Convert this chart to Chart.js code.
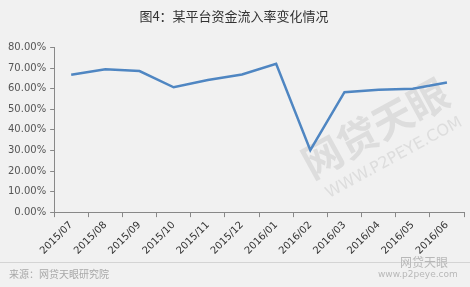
<!DOCTYPE html>
<html>
<head>
<meta charset="utf-8">
<script src="https://cdn.jsdelivr.net/npm/chart.js@4"></script>
<style>
  html, body { margin: 0; padding: 0; background: #f1f1f1; }
  #wrap { width: 470px; height: 287px; position: relative; }
</style>
</head>
<body>
<div id="wrap"><canvas id="rateChart" width="470" height="287"></canvas></div>
<script>
// Data
const months = ['2015/07', '2015/08', '2015/09', '2015/10', '2015/11', '2015/12',
                '2016/01', '2016/02', '2016/03', '2016/04', '2016/05', '2016/06'];
const inflowRate = [0.668, 0.695, 0.686, 0.607, 0.642, 0.669,
                    0.721, 0.301, 0.583, 0.595, 0.600, 0.630];
const titleText = '图4：某平台资金流入率变化情况';
const sourceText = '来源：网贷天眼研究院';

const baseFont = "'Noto Sans CJK SC', 'DejaVu Sans', sans-serif";

// background, watermark and footer
const decorPlugin = {
    id: 'decor',
    beforeDraw(chart) {
        const ctx = chart.ctx;
        ctx.save();
        ctx.fillStyle = '#f1f1f1';
        ctx.fillRect(0, 0, chart.width, chart.height);

        // faint watermark
        ctx.fillStyle = 'rgba(150,150,150,0.22)';
        ctx.textAlign = 'center';
        ctx.textBaseline = 'middle';
        ctx.save();
        ctx.translate(375, 128);
        ctx.rotate(-0.5);
        ctx.font = "bold 40px " + baseFont;
        ctx.fillText('网贷天眼', 0, 0);
        ctx.restore();
        ctx.save();
        ctx.translate(394, 158);
        ctx.rotate(-0.5);
        ctx.font = "16px 'DejaVu Sans', sans-serif";
        ctx.fillText('WWW.P2PEYE.COM', 0, 0);
        ctx.restore();
        ctx.restore();
    },
    afterDraw(chart) {
        const ctx = chart.ctx;
        ctx.save();
        ctx.strokeStyle = '#d4d4d4';
        ctx.lineWidth = 1;
        ctx.beginPath();
        ctx.moveTo(0, 262.5);
        ctx.lineTo(chart.width, 262.5);
        ctx.stroke();

        ctx.fillStyle = '#a8a8a8';
        ctx.font = "10px " + baseFont;
        ctx.textBaseline = 'middle';
        ctx.textAlign = 'left';
        ctx.fillText(sourceText, 9, 274);

        ctx.fillStyle = '#b8b8b8';
        ctx.font = "12px " + baseFont;
        ctx.fillText('网贷天眼', 400, 262);
        ctx.font = "9px 'DejaVu Sans', sans-serif";
        ctx.fillText('www.p2peye.com', 378, 275);
        ctx.restore();
    }
};

const ctx = document.getElementById('rateChart').getContext('2d');
new Chart(ctx, {
    type: 'line',
    data: {
        labels: months,
        datasets: [{
            data: inflowRate,
            borderColor: '#4f86c2',
            borderWidth: 2.5,
            pointRadius: 0,
            tension: 0,
            fill: false
        }]
    },
    options: {
        responsive: false,
        animation: false,
        layout: { padding: { left: 4, right: 6, top: 0, bottom: 28 } },
        plugins: {
            legend: { display: false },
            tooltip: { enabled: false },
            title: {
                display: true,
                text: titleText,
                color: '#333',
                font: { family: baseFont, size: 13, weight: 'normal' },
                padding: { top: 8, bottom: 24 }
            }
        },
        scales: {
            x: {
                offset: true,
                grid: { offset: true, drawOnChartArea: false, drawTicks: true, tickLength: 5, color: '#888' },
                border: { color: '#888', width: 1 },
                ticks: {
                    color: '#333',
                    font: { family: "'DejaVu Sans', sans-serif", size: 10 },
                    maxRotation: 45,
                    minRotation: 45,
                    autoSkip: false,
                    padding: 2
                }
            },
            y: {
                min: 0,
                max: 0.8,
                grid: { drawOnChartArea: false, drawTicks: true, tickLength: 4, color: '#888' },
                border: { color: '#888', width: 1 },
                ticks: {
                    stepSize: 0.1,
                    color: '#555',
                    font: { family: "'DejaVu Sans', sans-serif", size: 10 },
                    padding: 4,
                    callback: v => (v * 100).toFixed(2) + '%'
                }
            }
        }
    },
    plugins: [decorPlugin]
});
</script>
</body>
</html>
